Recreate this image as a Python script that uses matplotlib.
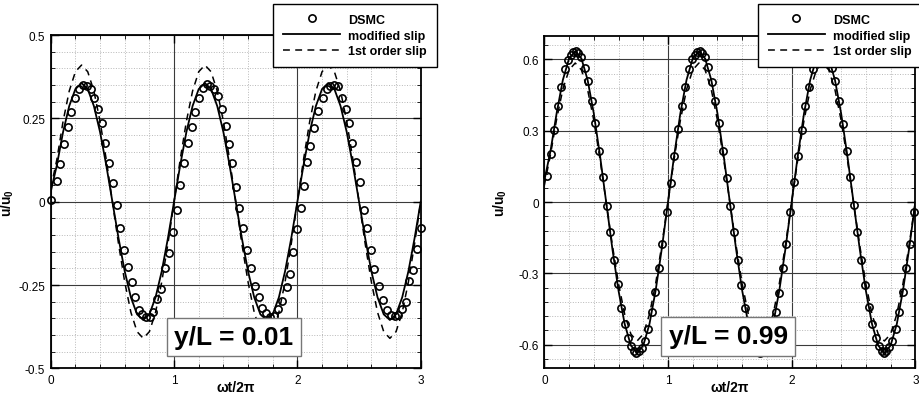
import numpy as np
import matplotlib
matplotlib.use("Agg")
import matplotlib.pyplot as plt
from matplotlib.ticker import MultipleLocator, FixedLocator
from matplotlib.lines import Line2D

plt.rcParams['font.family'] = ['Liberation Sans', 'DejaVu Sans']
plt.rcParams['mathtext.fontset'] = 'custom'
plt.rcParams['mathtext.rm'] = 'Liberation Sans'
plt.rcParams['mathtext.bf'] = 'Liberation Sans:bold'

# model curves sampled every 0.05 in wt/2pi
x_model = np.linspace(0, 3, 61)

mod_001 = [0.030, 0.110, 0.209, 0.287, 0.338, 0.356, 0.338, 0.287, 0.209, 0.110,
           0.000, -0.110, -0.209, -0.287, -0.338, -0.355, -0.338, -0.287, -0.209, -0.110,
           0.000, 0.110, 0.209, 0.287, 0.338, 0.356, 0.338, 0.287, 0.209, 0.110,
           0.000, -0.110, -0.209, -0.287, -0.338, -0.355, -0.338, -0.287, -0.209, -0.110,
           0.000, 0.110, 0.209, 0.287, 0.338, 0.356, 0.338, 0.287, 0.209, 0.110,
           0.000, -0.110, -0.209, -0.287, -0.338, -0.355, -0.338, -0.287, -0.209, -0.110,
           0.000]
first_001 = [0.040, 0.127, 0.241, 0.332, 0.390, 0.410, 0.390, 0.332, 0.241, 0.127,
             0.000, -0.127, -0.241, -0.332, -0.390, -0.410, -0.390, -0.332, -0.241, -0.127,
             0.000, 0.127, 0.241, 0.332, 0.390, 0.410, 0.390, 0.332, 0.241, 0.127,
             0.000, -0.127, -0.241, -0.332, -0.390, -0.410, -0.390, -0.332, -0.241, -0.127,
             0.000, 0.127, 0.241, 0.332, 0.390, 0.410, 0.390, 0.332, 0.241, 0.127,
             0.000, -0.127, -0.241, -0.332, -0.390, -0.410, -0.390, -0.332, -0.241, -0.127,
             0.000]
mod_099 = [0.090, 0.215, 0.375, 0.514, 0.604, 0.635, 0.604, 0.514, 0.373, 0.196,
           0.000, -0.196, -0.373, -0.514, -0.604, -0.635, -0.604, -0.514, -0.373, -0.196,
           0.000, 0.196, 0.373, 0.514, 0.604, 0.635, 0.604, 0.514, 0.373, 0.196,
           0.000, -0.196, -0.373, -0.514, -0.604, -0.635, -0.604, -0.514, -0.373, -0.196,
           0.000, 0.196, 0.373, 0.514, 0.604, 0.635, 0.604, 0.514, 0.373, 0.196,
           0.000, -0.196, -0.373, -0.514, -0.604, -0.635, -0.604, -0.514, -0.373, -0.196,
           0.000]
first_099 = [0.070, 0.200, 0.350, 0.475, 0.556, 0.585, 0.556, 0.473, 0.344, 0.181,
             0.000, -0.181, -0.344, -0.473, -0.556, -0.585, -0.556, -0.473, -0.344, -0.181,
             0.000, 0.181, 0.344, 0.473, 0.556, 0.585, 0.556, 0.473, 0.344, 0.181,
             0.000, -0.181, -0.344, -0.473, -0.556, -0.585, -0.556, -0.473, -0.344, -0.181,
             0.000, 0.181, 0.344, 0.473, 0.556, 0.585, 0.556, 0.473, 0.344, 0.181,
             0.000, -0.181, -0.344, -0.473, -0.556, -0.585, -0.556, -0.473, -0.344, -0.181,
             0.000]

# DSMC samples, y/L = 0.01
dsmc_x_001 = [0.000, 0.049, 0.079, 0.108, 0.139, 0.166, 0.197, 0.230, 0.262, 0.291,
              0.323, 0.353, 0.380, 0.415, 0.443, 0.475, 0.506, 0.534, 0.565, 0.597,
              0.624, 0.655, 0.685, 0.717, 0.741, 0.770, 0.802, 0.833, 0.864, 0.897,
              0.928, 0.956, 0.989, 1.023, 1.050, 1.077,
              1.111, 1.143, 1.170, 1.200, 1.232, 1.265, 1.292, 1.327, 1.359, 1.386,
              1.419, 1.449, 1.473, 1.503, 1.530, 1.562, 1.589, 1.624, 1.657, 1.686,
              1.716, 1.746, 1.778, 1.810, 1.843, 1.876, 1.914, 1.941, 1.968, 1.995,
              2.027, 2.054, 2.076,
              2.103, 2.138, 2.170, 2.205, 2.238, 2.265, 2.297, 2.332, 2.359, 2.395,
              2.419, 2.446, 2.478, 2.511, 2.541, 2.565, 2.595, 2.624, 2.662, 2.692,
              2.724, 2.757, 2.789, 2.819, 2.849, 2.881, 2.908, 2.941, 2.968, 3.000]
dsmc_y_001 = [0.005, 0.063, 0.113, 0.172, 0.225, 0.268, 0.311, 0.337, 0.351, 0.346,
              0.339, 0.310, 0.279, 0.236, 0.177, 0.117, 0.056, -0.009, -0.080, -0.145,
              -0.196, -0.240, -0.285, -0.325, -0.336, -0.346, -0.346, -0.330, -0.293, -0.263,
              -0.198, -0.153, -0.090, -0.024, 0.049, 0.116,
              0.175, 0.225, 0.268, 0.311, 0.340, 0.353, 0.346, 0.338, 0.318, 0.278,
              0.228, 0.173, 0.115, 0.043, -0.020, -0.078, -0.144, -0.200, -0.252, -0.287,
              -0.320, -0.335, -0.345, -0.342, -0.322, -0.297, -0.257, -0.217, -0.152, -0.082,
              -0.020, 0.046, 0.118,
              0.168, 0.221, 0.271, 0.310, 0.338, 0.346, 0.350, 0.346, 0.310, 0.278,
              0.236, 0.175, 0.118, 0.058, -0.024, -0.078, -0.144, -0.202, -0.252, -0.294,
              -0.324, -0.340, -0.342, -0.340, -0.322, -0.300, -0.237, -0.204, -0.142, -0.080]

# DSMC samples, y/L = 0.99
dsmc_x_099 = [0.022, 0.050, 0.080, 0.110, 0.138, 0.171, 0.194, 0.215, 0.235, 0.256,
              0.276, 0.298, 0.325, 0.352, 0.383, 0.413, 0.445, 0.474, 0.504, 0.532,
              0.563, 0.592, 0.624, 0.650, 0.679, 0.703, 0.727, 0.745, 0.762, 0.788,
              0.815, 0.841, 0.870, 0.898, 0.928, 0.955, 0.990, 1.021, 1.049, 1.080,
              1.110, 1.138, 1.171, 1.194, 1.215, 1.235, 1.256, 1.276, 1.298, 1.325,
              1.352, 1.383, 1.413, 1.445, 1.474, 1.504, 1.532, 1.563, 1.592, 1.624,
              1.650, 1.679, 1.703, 1.727, 1.745, 1.762, 1.788, 1.815, 1.841, 1.870,
              1.898, 1.928, 1.955, 1.990, 2.021, 2.049, 2.080,
              2.110, 2.138, 2.171, 2.194, 2.215, 2.235, 2.256, 2.276, 2.298, 2.325,
              2.352, 2.383, 2.413, 2.445, 2.474, 2.504, 2.532, 2.563, 2.592, 2.624,
              2.650, 2.679, 2.703, 2.727, 2.745, 2.762, 2.788, 2.815, 2.841, 2.870,
              2.898, 2.928, 2.955, 2.990]
dsmc_y_099 = [0.108, 0.202, 0.304, 0.405, 0.485, 0.560, 0.597, 0.618, 0.630, 0.635,
              0.628, 0.612, 0.566, 0.508, 0.425, 0.331, 0.215, 0.104, -0.015, -0.127,
              -0.245, -0.347, -0.445, -0.515, -0.573, -0.608, -0.627, -0.635, -0.628, -0.613,
              -0.583, -0.533, -0.464, -0.380, -0.277, -0.177, -0.041, 0.082, 0.194, 0.306,
              0.406, 0.484, 0.561, 0.600, 0.620, 0.631, 0.636, 0.629, 0.611, 0.567,
              0.507, 0.424, 0.332, 0.213, 0.103, -0.016, -0.128, -0.246, -0.349, -0.446,
              -0.516, -0.574, -0.609, -0.628, -0.637, -0.629, -0.611, -0.582, -0.532, -0.465,
              -0.381, -0.278, -0.176, -0.042, 0.083, 0.195, 0.305,
              0.404, 0.486, 0.559, 0.598, 0.619, 0.630, 0.634, 0.628, 0.613, 0.565,
              0.509, 0.426, 0.330, 0.216, 0.105, -0.014, -0.126, -0.244, -0.348, -0.444,
              -0.514, -0.572, -0.607, -0.627, -0.634, -0.627, -0.612, -0.584, -0.534, -0.463,
              -0.379, -0.276, -0.178, -0.040]

xticks = [0, 1, 2, 3]
xtick_labels = ['0', '1', '2', '3']

panels = [
    dict(pos=[0.0552, 0.0813, 0.4026, 0.829], ylim=(-0.5, 0.5), minor=0.05,
         yticks=[-0.5, -0.25, 0, 0.25, 0.5], ylabels=['-0.5', '-0.25', '0', '0.25', '0.5'],
         mod=mod_001, first=first_001, dx=dsmc_x_001, dy=dsmc_y_001,
         tag='y/L = 0.01', tagpos=(1.483, -0.406), legx=0.297),
    dict(pos=[0.5923, 0.0813, 0.4037, 0.8274], ylim=(-0.7, 0.7), minor=0.06,
         yticks=[-0.6, -0.3, 0, 0.3, 0.6], ylabels=['-0.6', '-0.3', '0', '0.3', '0.6'],
         mod=mod_099, first=first_099, dx=dsmc_x_099, dy=dsmc_y_099,
         tag='y/L = 0.99', tagpos=(1.486, -0.566), legx=0.8245),
]

fig = plt.figure(figsize=(9.19, 4.02), dpi=100)

for p in panels:
    ax = fig.add_axes(p['pos'])
    ax.set_xlim(0, 3)
    ax.set_ylim(*p['ylim'])

    ax.xaxis.set_major_locator(FixedLocator(xticks))
    ax.xaxis.set_minor_locator(MultipleLocator(0.2))
    ax.yaxis.set_major_locator(FixedLocator(p['yticks']))
    ax.yaxis.set_minor_locator(MultipleLocator(p['minor']))
    ax.set_xticklabels(xtick_labels)
    ax.set_yticklabels(p['ylabels'])

    ax.grid(which='minor', color='#b8b8b8', linestyle=':', linewidth=0.7)
    ax.grid(which='major', color='#3a3a3a', linestyle='-', linewidth=0.8)
    ax.set_axisbelow(True)

    ax.tick_params(which='both', direction='in', top=True, right=True, labelsize=8.5)
    ax.tick_params(which='major', length=6, width=1.0, pad=4)
    ax.tick_params(which='minor', length=3, width=0.6)
    for s in ax.spines.values():
        s.set_linewidth(1.3)

    ax.plot(x_model, p['mod'], color='black', lw=1.3, zorder=3)
    ax.plot(x_model, p['first'], color='black', lw=1.1, linestyle=(0, (4.5, 3.5)), zorder=3)
    ax.plot(p['dx'], p['dy'], linestyle='none', marker='o', markersize=5.2,
            markerfacecolor='none', markeredgecolor='black', markeredgewidth=1.2,
            clip_on=False, zorder=4)

    ax.set_xlabel('ωt/2π', fontsize=10, fontweight='bold')
    ax.set_ylabel(r'$\mathbf{u/u_0}$', fontsize=10)
    ax.xaxis.set_label_coords(0.5, -0.035)
    ax.yaxis.set_label_coords(-0.094, 0.5)

    ax.text(p['tagpos'][0], p['tagpos'][1], p['tag'], fontsize=19, fontweight='bold',
            ha='center', va='center', zorder=6,
            bbox=dict(boxstyle='square,pad=0.28', facecolor='white', edgecolor='#777777', lw=1.0))

    handles = [
        Line2D([], [], linestyle='none', marker='o', markersize=5.2, markerfacecolor='none',
               markeredgecolor='black', markeredgewidth=1.2),
        Line2D([], [], color='black', lw=1.3),
        Line2D([], [], color='black', lw=1.1, linestyle=(0, (4.5, 3.5))),
    ]
    leg = ax.legend(handles, ['DSMC', 'modified slip', '1st order slip'],
                    loc='upper left', bbox_to_anchor=(p['legx'], 0.988),
                    bbox_transform=fig.transFigure, prop=dict(weight='bold', size=9),
                    frameon=True, fancybox=False, framealpha=1, edgecolor='black',
                    handlelength=4.6, handletextpad=0.6, labelspacing=0.3,
                    borderpad=0.8, borderaxespad=0)
    leg.get_frame().set_linewidth(1.0)
    leg.set_zorder(10)

fig.savefig('out.png', dpi=100)
